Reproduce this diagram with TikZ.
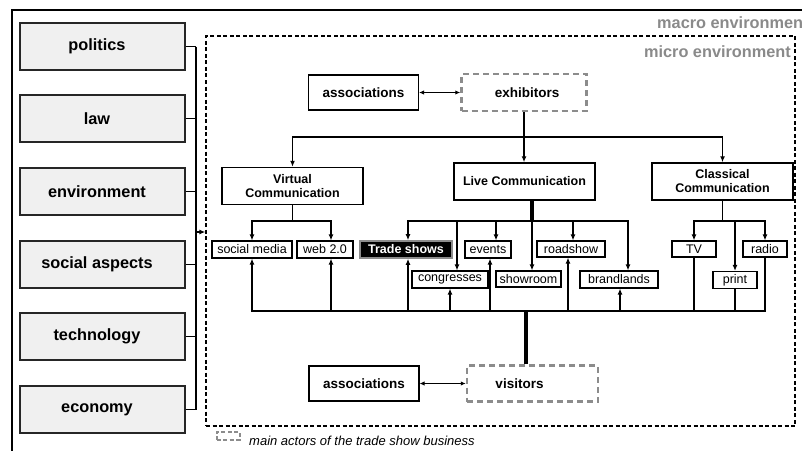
\documentclass[tikz,border=0pt]{standalone}
\usepackage{fontspec}
\setmainfont{Liberation Sans}
\usetikzlibrary{arrows.meta}
\definecolor{boxgray}{HTML}{F0F0F0}
\definecolor{actorgray}{HTML}{8C8C8C}
\definecolor{titlegray}{HTML}{8A8A8A}

\begin{document}
\begin{tikzpicture}[x=1pt,y=-1pt,
  conn/.style={line width=1.8pt},
  heavy/.style={line width=3.5pt},
  tip/.style={-{Latex[length=6pt,width=5pt]}},
  twoway/.style={line width=1pt,{Latex[length=5pt,width=4.5pt]}-{Latex[length=5pt,width=4.5pt]}},
  factor/.style={draw=black!85, fill=boxgray, line width=1.4pt, inner sep=0pt,
    minimum width=165pt, minimum height=47pt,
    font=\fontsize{16.3}{18}\selectfont\bfseries,
    execute at end node={\hspace*{11pt}}},
  comm/.style={draw, line width=1.5pt, inner sep=0pt, minimum width=141pt,
    minimum height=37pt, align=center,
    font=\fontsize{12.5}{14}\selectfont\bfseries},
  item/.style={draw, line width=1.1pt, inner sep=0pt, minimum height=17pt,
    font=\fontsize{12.5}{14}\selectfont},
  assoc/.style={draw, line width=1.2pt, inner sep=0pt, minimum width=110pt,
    minimum height=35pt, font=\fontsize{13.5}{15}\selectfont\bfseries},
  actor/.style={draw=actorgray, dash pattern=on 6pt off 4pt, line width=2.5pt,
    inner sep=0pt, font=\fontsize{13.5}{15}\selectfont\bfseries},
  envtitle/.style={text=titlegray, inner sep=0pt,
    font=\fontsize{16.3}{18}\selectfont\bfseries}
]
\clip (0,0) rectangle (802,450);

% macro environment frame (runs past the page edge)
\draw[line width=1.4pt] (12,470) -- (12,10) -- (830,10);
\node[envtitle, anchor=west] (macrotitle) at (657,23) {macro environment};

% micro environment frame
\node[draw, dash pattern=on 4pt off 2.5pt, line width=1.4pt,
  minimum width=589pt, minimum height=390pt, inner sep=0pt] (micro) at (500.5,231) {};
\node[envtitle, anchor=east] (microtitle) at (791,52) {micro environment};

% external factors
\node[factor] (politics) at (102.5,46.5) {politics};
\node[factor] (law)      at (102.5,118.5) {law};
\node[factor] (envir)    at (102.5,191.5) {environment};
\node[factor] (social)   at (102.5,264.5) {social aspects};
\node[factor] (tech)     at (102.5,336.5) {technology};
\node[factor] (economy)  at (102.5,409.5) {economy};

\coordinate (ltop) at (196,46.5);
\coordinate (lbot) at (196,409.5);
\coordinate (lmid) at (196,232);
\draw[conn] (ltop) -- (lbot);
\foreach \f in {politics,law,envir,social,tech,economy}
  \draw[conn] (\f.east) -- (\f.east -| ltop);
\draw[conn,tip] (lmid) -- (lmid -| micro.west);

% actors and associations
\node[assoc] (assoctop) at (363.5,92.5) {associations};
\node[actor, minimum width=125pt, minimum height=37pt] (exh) at (524,92.5) {\hspace*{6pt}exhibitors};
\draw[twoway] (assoctop.east) -- (exh.west);

\node[assoc] (assocbot) at (364,383.5) {associations};
\node[actor, minimum width=131pt, minimum height=36pt] (vis) at (532.5,383.5) {visitors\hspace*{26pt}};
\draw[twoway] (assocbot.east) -- (vis.west);

% communication channels
\node[comm] (virt)  at (292.5,186) {Virtual\\Communication};
\node[comm] (live)  at (524.5,181.5) {Live Communication};
\node[comm] (class) at (722.5,181.5) {Classical\\Communication};

\coordinate (split) at (524,137);
\draw[conn,tip] (exh.south) -- (exh.south |- live.north);
\draw[conn,tip] (split) -| (virt.north);
\draw[conn,tip] (split) -| (class.north);

% instruments, first row
\node[item, minimum width=80pt] (smedia) at (252,249.5) {social media};
\node[item, minimum width=56pt] (web)    at (325,249.5) {web 2.0};
\node[item, minimum width=92pt, fill=black, draw=actorgray, line width=1.6pt,
  text=white, font=\fontsize{12.5}{14}\selectfont\bfseries] (trade) at (406,249.5) {Trade shows};
\node[item, minimum width=46pt] (events) at (488,249.5) {events};
\node[item, minimum width=68pt, minimum height=16pt] (road) at (571,249) {roadshow};
\node[item, minimum width=44pt, minimum height=16pt] (tv)    at (694,249) {TV};
\node[item, minimum width=44pt, minimum height=16pt] (radio) at (765,249) {radio};

% instruments, second row
\node[item, minimum width=76pt] (congr) at (450,279.5) {congresses};
\node[item, minimum width=65pt, minimum height=16pt] (showr) at (528.5,279) {showroom};
\node[item, minimum width=78pt] (brand) at (619,279.5) {brandlands};
\node[item, minimum width=44pt] (print) at (735,280) {print};

% virtual branch
\coordinate (vsplit) at (292.5,221);
\draw[conn] (virt.south) -- (vsplit);
\draw[conn,tip] (vsplit) -| (smedia.north);
\draw[conn,tip] (vsplit) -| ([xshift=6pt]web.north);

% live branch
\coordinate (lsplit) at (532,221);
\draw[heavy] ([xshift=7.5pt]live.south) -- (lsplit);
\draw[conn,tip] (lsplit) -| ([xshift=2pt]trade.north);
\draw[conn,tip] (lsplit) -| ([xshift=7pt]congr.north);
\draw[conn,tip] (lsplit) -| ([xshift=8pt]events.north);
\draw[conn,tip] (lsplit) -- (lsplit |- showr.north);
\draw[conn,tip] (lsplit) -| ([xshift=2pt]road.north);
\draw[conn,tip] (lsplit) -| ([xshift=9pt]brand.north);

% classical branch
\coordinate (csplit) at (722.5,221);
\draw[conn] (class.south) -- (csplit);
\draw[conn,tip] (csplit) -| (tv.north);
\draw[conn,tip] (csplit) -| (print.north);
\draw[conn,tip] (csplit) -| (radio.north);

% visitor reach bus
\coordinate (bus) at (526,311);
\draw[heavy] (bus) -- (bus |- vis.north);
\draw[conn,tip] (bus) -| (smedia.south);
\draw[conn,tip] (bus) -| ([xshift=6pt]web.south);
\draw[conn,tip] (bus) -| ([xshift=2pt]trade.south);
\draw[conn,tip] (bus) -| (congr.south);
\draw[conn,tip] (bus) -| ([xshift=2pt]events.south);
\draw[conn,tip] (bus) -| ([xshift=-3pt]road.south);
\draw[conn,tip] (bus) -| ([xshift=1pt]brand.south);
\draw[conn] (bus) -| (tv.south);
\draw[conn] (bus) -| (print.south);
\draw[conn] (bus) -| (radio.south);

% legend
\node[draw=actorgray, dash pattern=on 4pt off 2.5pt, line width=2pt,
  minimum width=23pt, minimum height=8pt, inner sep=0pt] (legendbox) at (228,435.5) {};
\node[anchor=base west, inner sep=0pt, font=\fontsize{13}{15}\selectfont\itshape]
  (legendtext) at (249,445) {main actors of the trade show business};
\end{tikzpicture}
\end{document}
